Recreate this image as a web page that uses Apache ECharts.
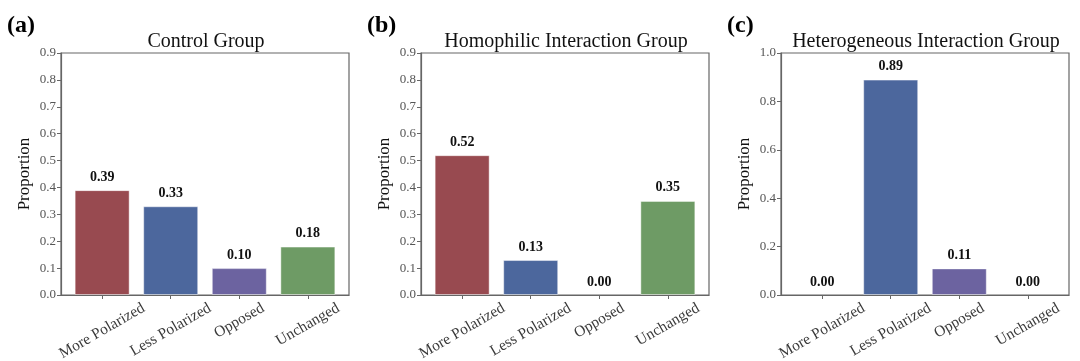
<!DOCTYPE html>
<html>
<head>
<meta charset="utf-8">
<script src="https://cdn.jsdelivr.net/npm/echarts@6/dist/echarts.min.js"></script>
<style>
html,body{margin:0;padding:0;background:#fff;}
#chart{width:1080px;height:361px;}
</style>
</head>
<body>
<div id="chart"></div>
<script>
// ---- data ----
const categories = ['More Polarized', 'Less Polarized', 'Opposed', 'Unchanged'];
const controlValues = [0.39, 0.33, 0.10, 0.18];
const homophilicValues = [0.52, 0.13, 0.00, 0.35];
const heterogeneousValues = [0.00, 0.89, 0.11, 0.00];
const panelTitles = ['Control Group', 'Homophilic Interaction Group', 'Heterogeneous Interaction Group'];
const panelLetters = ['(a)', '(b)', '(c)'];
const yMaxes = [0.9, 0.9, 1.0];
const yIntervals = [0.1, 0.1, 0.2];
const barColors = ['#984a50', '#4c679d', '#6c63a0', '#6e9b65'];

// ---- layout / style ----
const FONT = '"Liberation Serif", "Times New Roman", serif';
const panelLeft = [61, 421, 781];
const plotW = 288;
const gridTop = 53;
const gridBottom = 66;
const xLabelSize = 15.5;

// measure label length to emulate centred, top-anchored rotated labels
const ctx = document.createElement('canvas').getContext('2d');
ctx.font = xLabelSize + 'px ' + FONT;
const rich = {};
categories.forEach((c, i) => {
  const L = ctx.measureText(c).width;
  const D = L / 4;
  rich['c' + i] = {
    fontFamily: FONT, fontSize: xLabelSize, color: '#3a3a3a',
    padding: [1.732 * D, D, 0, 0]
  };
});

const allValues = [controlValues, homophilicValues, heterogeneousValues];

const chart = echarts.init(document.getElementById('chart'));
const option = {
  backgroundColor: '#fff',
  animation: false,
  title: [],
  grid: [],
  xAxis: [],
  yAxis: [],
  series: []
};

for (let p = 0; p < 3; p++) {
  option.title.push({
    text: panelLetters[p], left: panelLeft[p] - 59, top: 9,
    textStyle: { fontFamily: FONT, fontSize: 24, fontWeight: 'bold', color: '#000' }
  });
  option.title.push({
    text: panelTitles[p], left: panelLeft[p] + plotW / 2 - 4, top: 27, textAlign: 'center',
    textStyle: { fontFamily: FONT, fontSize: 20, fontWeight: 'normal', color: '#111' }
  });
  option.grid.push({
    left: panelLeft[p], width: plotW, top: gridTop, bottom: gridBottom,
    containLabel: false, outerBoundsMode: 'none',
    show: true, borderColor: '#666', borderWidth: 1.2, backgroundColor: 'transparent'
  });
  option.xAxis.push({
    type: 'value', gridIndex: p, min: -0.6, max: 3.6,
    splitLine: { show: false },
    axisLine: { show: true, onZero: false, lineStyle: { color: '#666', width: 1.2 } },
    axisTick: { show: true, customValues: [0, 1, 2, 3], length: 4, lineStyle: { color: '#666', width: 1 } },
    axisLabel: {
      customValues: [0, 1, 2, 3], rotate: 30, align: 'center', verticalAlign: 'middle', margin: 12,
      formatter: v => '{c' + Math.round(v) + '|' + categories[Math.round(v)] + '}',
      rich: rich
    }
  });
  option.yAxis.push({
    type: 'value', gridIndex: p, min: 0, max: yMaxes[p], interval: yIntervals[p],
    name: 'Proportion', nameLocation: 'middle', nameGap: 28,
    nameTextStyle: { fontFamily: FONT, fontSize: 17, color: '#111' },
    splitLine: { show: false },
    axisLine: { show: true, onZero: false, lineStyle: { color: '#666', width: 1.2 } },
    axisTick: { show: true, inside: false, length: 4, lineStyle: { color: '#666', width: 1 } },
    axisLabel: {
      fontFamily: FONT, fontSize: 13, color: '#555', margin: 5,
      formatter: v => v.toFixed(1)
    }
  });
  option.series.push({
    type: 'bar', xAxisIndex: p, yAxisIndex: p, barWidth: 55,
    data: allValues[p].map((v, i) => ({
      value: [i, v],
      itemStyle: { color: barColors[i], borderColor: 'rgba(255,255,255,0.45)', borderWidth: v > 0 ? 1 : 0 }
    })),
    label: {
      show: true, position: 'top', distance: 6,
      fontFamily: FONT, fontSize: 14, fontWeight: 'bold', color: '#111',
      formatter: d => d.value[1].toFixed(2)
    }
  });
}

chart.setOption(option);
</script>
</body>
</html>
